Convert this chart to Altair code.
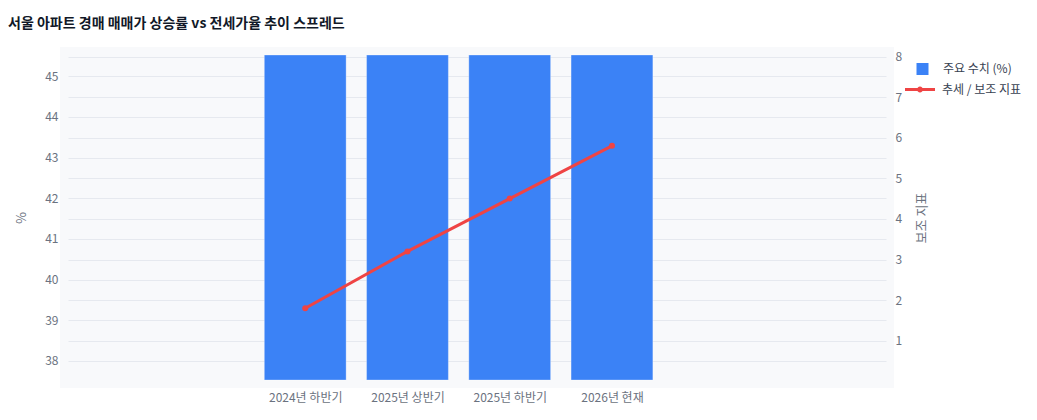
import altair as alt
import pandas as pd

categories = ["2024년 하반기", "2025년 상반기", "2025년 하반기", "2026년 현재"]
bar_values = [52.4, 53.1, 53.8, 54.5]   # bars exceed the visible range (clipped at top)
line_values = [1.8, 3.2, 4.5, 5.8]
bar_name = "주요 수치 (%)"
line_name = "추세 / 보조 지표"

FONT = "Noto Sans CJK KR"
BLUE = "#3b82f6"
RED = "#ef4444"
GRID = "#e6e9ef"
TXT = "#6b7280"

bars_df = pd.DataFrame({
    "idx": list(range(len(categories))),
    "cat": categories,
    "value": bar_values,
    "base": [0] * len(categories),
    "series": [bar_name] * len(categories),
})
line_df = pd.DataFrame({
    "idx": list(range(len(categories))),
    "cat": categories,
    "value": line_values,
    "series": [line_name] * len(categories),
})

W, H = 834, 341
PAD = 8

label_expr = "[" + ",".join("'%s'" % c for c in categories) + "][datum.value]"

x_scale = alt.Scale(domain=[-2.32, 5.68], range=[PAD, W - PAD], nice=False, zero=False)
x_axis = alt.Axis(values=list(range(len(categories))), labelExpr=label_expr, title=None,
                  grid=False, domain=False, ticks=False, tickSize=0, labelPadding=4,
                  labelFont=FONT, labelFontSize=12, labelColor=TXT)

line_path = ("M-2.5,0L2.5,0"
             "M-0.25,0A0.25,0.25 0 1,0 0.25,0A0.25,0.25 0 1,0 -0.25,0")

bar_legend = alt.Legend(
    title=None, orient="none", legendX=856.5, legendY=16, padding=0,
    symbolType="square", symbolSize=144, labelOffset=14.5,
    symbolStrokeWidth=0, symbolOpacity=1,
    labelFont=FONT, labelFontSize=12, labelColor="#374151",
)
line_legend = alt.Legend(
    title=None, orient="none", legendX=852.5, legendY=35, padding=0,
    symbolType=line_path, symbolSize=144, labelOffset=14.5,
    symbolStrokeWidth=3, symbolOpacity=1,
    labelFont=FONT, labelFontSize=12, labelColor="#374151",
)

bars = alt.Chart(bars_df).transform_calculate(
    x0="datum.idx - 0.4", x1="datum.idx + 0.4"
).mark_bar(stroke="#ffffff", strokeWidth=0.6, strokeOpacity=0.5).encode(
    x=alt.X("x0:Q", scale=x_scale, axis=x_axis),
    x2="x1:Q",
    y=alt.Y("value:Q",
            scale=alt.Scale(domain=[37.53, 45.52], range=[H - PAD, PAD], clamp=True, nice=False, zero=False),
            axis=alt.Axis(orient="left", values=[38, 39, 40, 41, 42, 43, 44, 45], title="%",
                          grid=True, gridColor=GRID, gridWidth=1, domain=False, ticks=False,
                          labelPadding=2, labelFont=FONT, labelFontSize=12, labelColor=TXT,
                          titleFont=FONT, titleFontSize=13, titleColor=TXT, titleFontWeight="normal",
                          titleAngle=270, titleX=-39, titleY=H / 2, titleBaseline="middle", titleAlign="center")),
    y2="base:Q",
    fill=alt.Fill("series:N", scale=alt.Scale(domain=[bar_name], range=[BLUE]), legend=bar_legend),
)

y_right = alt.Scale(domain=[0.032, 8.037], range=[H - PAD, PAD], nice=False, zero=False)
y_right_axis = alt.Axis(orient="right", values=[1, 2, 3, 4, 5, 6, 7, 8], title="보조 지표",
                        grid=True, gridColor=GRID, gridWidth=1, domain=False, ticks=False,
                        labelPadding=1, labelFont=FONT, labelFontSize=12, labelColor=TXT,
                        titleFont=FONT, titleFontSize=13, titleColor=TXT, titleFontWeight="normal",
                        titleAngle=270, titleX=27, titleY=H / 2, titleBaseline="middle", titleAlign="center")

line = alt.Chart(line_df).mark_line(strokeWidth=3).encode(
    x=alt.X("idx:Q", scale=x_scale, axis=x_axis),
    y=alt.Y("value:Q", scale=y_right, axis=y_right_axis),
    stroke=alt.Stroke("series:N", scale=alt.Scale(domain=[line_name], range=[RED]), legend=line_legend),
)
points = alt.Chart(line_df).mark_circle(size=36, opacity=1, color=RED).encode(
    x=alt.X("idx:Q", scale=x_scale, axis=x_axis),
    y=alt.Y("value:Q", scale=y_right, axis=y_right_axis),
)

right = alt.layer(line, points)

chart = alt.layer(bars, right).resolve_scale(y="independent").properties(
    width=W, height=H,
    padding={"left": 52, "top": 39, "right": 135, "bottom": 24},
    autosize=alt.AutoSizeParams(type="none"),
    view=alt.ViewBackground(fill="#f8f9fb", strokeWidth=0, strokeOpacity=0),
    title=alt.TitleParams(
        text="서울 아파트 경매 매매가 상승률 vs 전세가율 추이 스프레드",
        anchor="start", frame="group", dx=-52, font=FONT, fontSize=14,
        fontWeight="bold", color="#111827", offset=16,
    ),
).configure_view(fill="#f8f9fb", strokeWidth=0, strokeOpacity=0).configure(background="white")

chart.save("out.html", embed_options={"renderer": "svg", "actions": False})
